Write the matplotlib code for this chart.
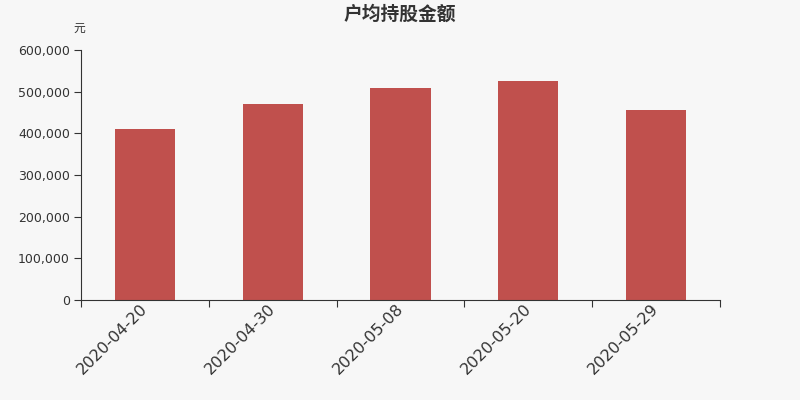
import numpy as np
import matplotlib.pyplot as plt
import matplotlib.transforms as mtransforms
from matplotlib.ticker import FuncFormatter

plt.rcParams["font.family"] = ["DejaVu Sans", "Noto Sans CJK SC"]

dates = ["2020-04-20", "2020-04-30", "2020-05-08", "2020-05-20", "2020-05-29"]
values = [410000, 470000, 508000, 525500, 455500]
yticks = [0, 100000, 200000, 300000, 400000, 500000, 600000]

bg = "#f7f7f7"
fig = plt.figure(figsize=(8, 4), dpi=100, facecolor=bg)
ax = fig.add_axes([0.10125, 0.25, 0.79875, 0.625], facecolor=bg)

x = np.arange(len(dates))
ax.bar(x, values, width=0.47, color="#c0504d", zorder=2)

ax.set_xlim(-0.5, len(dates) - 0.5)
ax.set_ylim(0, 600000)
ax.set_yticks(yticks)
ax.yaxis.set_major_formatter(FuncFormatter(lambda v, p: f"{int(v):,}"))

# tick marks on category boundaries, labels at centres
ax.set_xticks(np.arange(-0.5, len(dates), 1.0))
ax.set_xticklabels([])
ax.set_xticks(x, minor=True)
ax.set_xticklabels(dates, minor=True, rotation=45, ha="right", rotation_mode="anchor",
                   fontsize=11.5, color="#333333")
ax.tick_params(axis="x", which="minor", length=0, pad=2)
ax.tick_params(axis="x", which="major", length=5, color="#333333")
ax.tick_params(axis="y", length=5, color="#333333", labelsize=9, labelcolor="#333333", pad=3)

# nudge the rotated labels a bit to the left
shift = mtransforms.ScaledTranslation(-5 / 100, 2 / 100, fig.dpi_scale_trans)
for lab in ax.get_xticklabels(minor=True):
    lab.set_transform(lab.get_transform() + shift)

for s in ["top", "right"]:
    ax.spines[s].set_visible(False)
for s in ["left", "bottom"]:
    ax.spines[s].set_color("#333333")

fig.text(0.5, 0.965, "户均持股金额", ha="center", va="center", fontsize=13.5,
         fontweight="bold", color="#333333", family=["Noto Sans CJK SC"])
fig.text(0.099, 0.93, "元", ha="center", va="center", fontsize=8.5, color="#333333",
         family=["Noto Sans CJK SC"])

fig.savefig("out.png", dpi=100, facecolor=bg)
